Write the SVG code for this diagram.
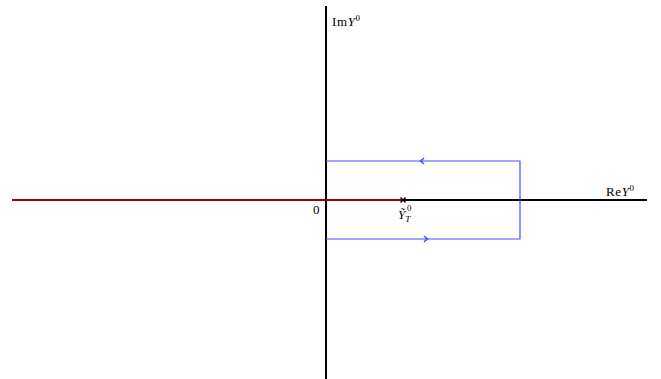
<svg xmlns="http://www.w3.org/2000/svg" width="661" height="379" viewBox="0 0 661 379">
<style>
.axis{stroke:#000;stroke-width:2;fill:none}
.cut{stroke:#a00000;stroke-width:2.2;fill:none}
.contour{stroke:#4d4dff;stroke-width:1.2;fill:none}
.chev{stroke:#4d4dff;stroke-width:1.3;fill:none}
.lbl{font-family:"Liberation Serif","Times New Roman",serif;font-size:13px;fill:#000}
.it{font-style:italic}
.sup{font-size:9px}
</style>
<g id="connectors">
<line class="axis" x1="12" y1="200" x2="647" y2="200"/>
<line class="axis" x1="326" y1="6" x2="326" y2="379"/>
<line class="cut" x1="12" y1="200" x2="403" y2="200"/>
<path class="contour" d="M326,239 H520 V161 H326"/>
<path class="chev" d="M424,236 Q426,238.5 428,239 Q426,239.5 424,242"/>
<path class="chev" d="M424,158 Q422,160.5 420,161 Q422,161.5 424,164"/>
</g>
<g id="node-YT">
<path d="M400.5,197.5 L405.5,202.5 M405.5,197.5 L400.5,202.5" stroke="#000" stroke-width="1.4"/>
<text class="lbl" x="398" y="219"><tspan class="it">Ỹ</tspan><tspan class="sup it" dy="3">T</tspan></text>
<text class="lbl sup" x="407" y="211">0</text>
</g>
<g id="label-origin">
<text class="lbl" x="313" y="214">0</text>
</g>
<g id="label-im">
<text class="lbl" x="332" y="26" letter-spacing="0.6">Im<tspan class="it">Y</tspan><tspan class="sup" dy="-5">0</tspan></text>
</g>
<g id="label-re">
<text class="lbl" x="606" y="196" letter-spacing="0.6">Re<tspan class="it">Y</tspan><tspan class="sup" dy="-5">0</tspan></text>
</g>
</svg>
